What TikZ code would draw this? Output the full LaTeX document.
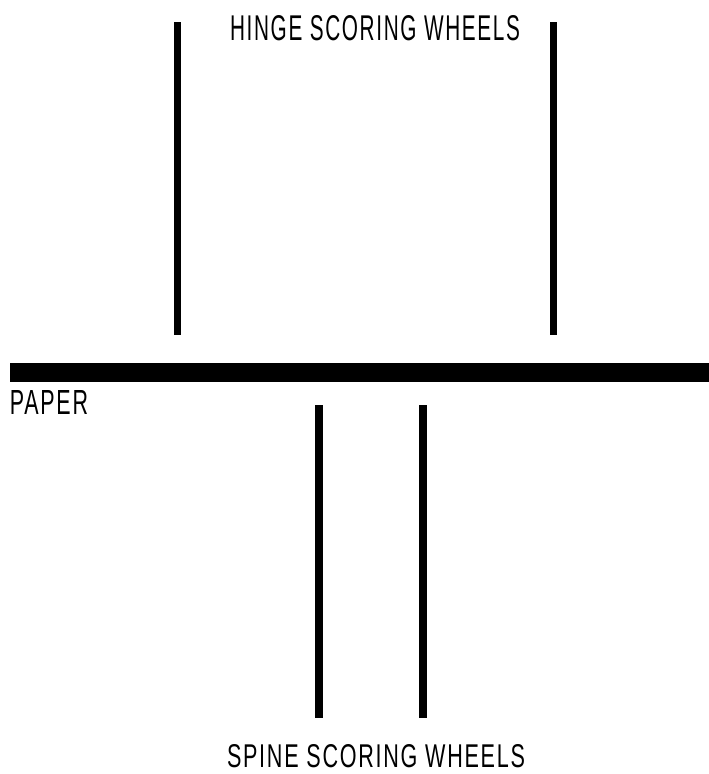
\documentclass[tikz,border=0pt]{standalone}
\usepackage{graphicx}
\usepackage{fontspec}
\setmainfont{Liberation Sans}
\begin{document}
\begin{tikzpicture}[x=1pt,y=-1pt,
  hingewheel/.style={line width=7pt},
  spinewheel/.style={line width=8pt},
  paperbar/.style={line width=19pt},
  lbl/.style={inner sep=0pt, outer sep=0pt, anchor=north west}]
\useasboundingbox (0,0) rectangle (709,774);
% paper
\coordinate (pl) at (10,372.5);
\coordinate (pr) at (709,372.5);
\draw[paperbar] (pl) -- (pr);
% hinge scoring wheels
\coordinate (h1t) at (177.5,22);
\coordinate (h1b) at (177.5,335);
\coordinate (h2t) at (553,22);
\coordinate (h2b) at (553,335);
\draw[hingewheel] (h1t) -- (h1b);
\draw[hingewheel] (h2t) -- (h2b);
% spine scoring wheels
\coordinate (s1t) at (318.5,405);
\coordinate (s1b) at (318.5,718);
\coordinate (s2t) at (423,405);
\coordinate (s2b) at (423,718);
\draw[spinewheel] (s1t) -- (s1b);
\draw[spinewheel] (s2t) -- (s2b);
% labels
\node[lbl] (hinge) at (230,15) {\resizebox{290pt}{25pt}{\addfontfeatures{LetterSpace=8}HINGE SCORING WHEELS}};
\node[lbl] (paper) at (10,390) {\resizebox{78pt}{24pt}{\addfontfeatures{LetterSpace=8}PAPER}};
\node[lbl] (spine) at (227,744) {\resizebox{298pt}{23pt}{\addfontfeatures{LetterSpace=8}SPINE SCORING WHEELS}};
\end{tikzpicture}
\end{document}
